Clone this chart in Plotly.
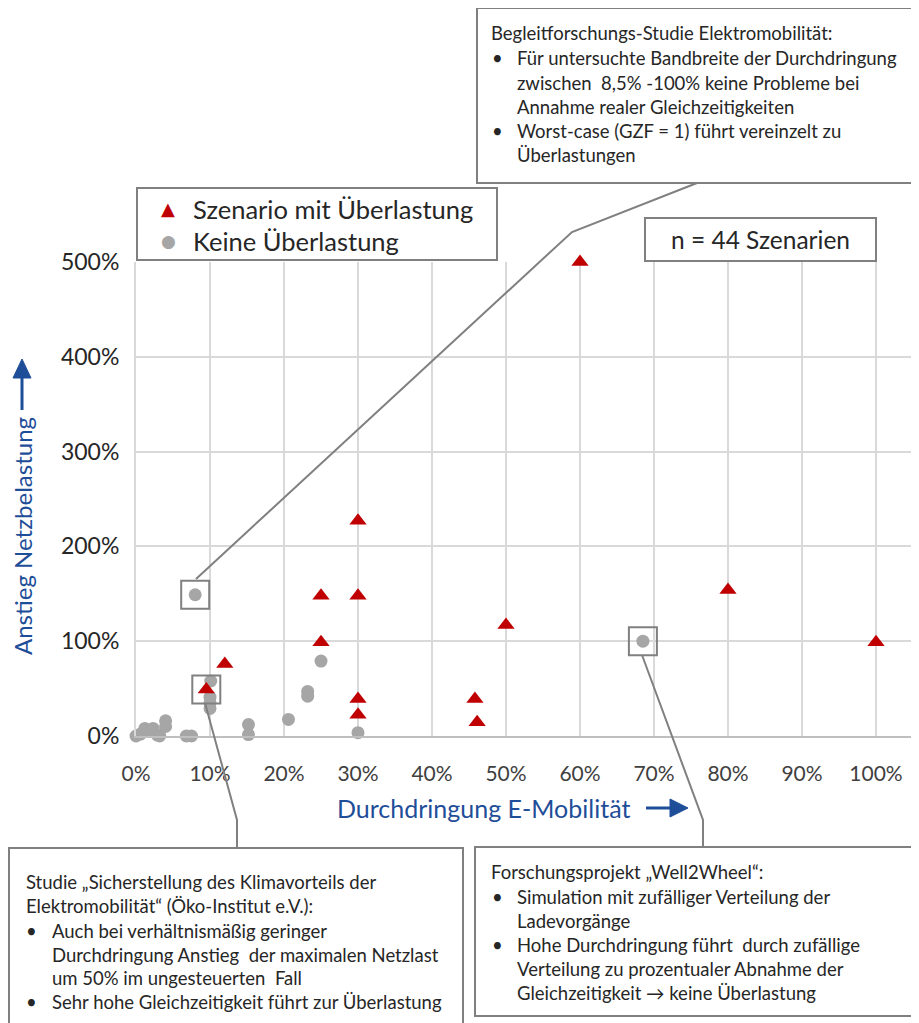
import plotly.graph_objects as go

# ---------------- data ----------------
over_x = [60, 30, 30, 25, 25, 50, 80, 100, 12, 9.5, 30, 30, 45.8, 46.1]
over_y = [500, 227, 148, 148, 99, 117, 154, 99, 76, 49, 39, 22.5, 39, 14.5]

ok_x = [0, 0.6, 1.2, 1.8, 2.3, 2.9, 3.2, 4.0, 4.0, 6.8, 7.5, 8.0, 10.1, 10.0,
        10.0, 10.0, 15.2, 15.2, 20.6, 23.2, 23.2, 25.0, 30.0, 68.5]
ok_y = [0, 2, 8, 5, 8, 1, 0, 16, 10, 0, 0, 149, 58, 41,
        35, 29, 12, 1.5, 17.5, 47, 42, 79, 3.5, 100]

x_ticks = [0, 10, 20, 30, 40, 50, 60, 70, 80, 90, 100]
y_ticks = [0, 100, 200, 300, 400, 500]

series_names = ["Szenario mit Überlastung", "Keine Überlastung"]
n_label = "n = 44 Szenarien"

top_text = [("h", "Begleitforschungs-Studie Elektromobilität:"),
            ("b", "Für untersuchte Bandbreite der Durchdringung"),
            ("c", "zwischen  8,5% -100% keine Probleme bei"),
            ("c", "Annahme realer Gleichzeitigkeiten"),
            ("b", "Worst-case (GZF = 1) führt vereinzelt zu"),
            ("c", "Überlastungen")]
left_text = [("h", "Studie „Sicherstellung des Klimavorteils der"),
             ("h", "Elektromobilität“ (Öko-Institut e.V.):"),
             ("b", "Auch bei verhältnismäßig geringer"),
             ("c", "Durchdringung Anstieg  der maximalen Netzlast"),
             ("c", "um 50% im ungesteuerten  Fall"),
             ("b", "Sehr hohe Gleichzeitigkeit führt zur Überlastung")]
right_text = [("h", "Forschungsprojekt „Well2Wheel“:"),
              ("b", "Simulation mit zufälliger Verteilung der"),
              ("c", "Ladevorgänge"),
              ("b", "Hohe Durchdringung führt  durch zufällige"),
              ("c", "Verteilung zu prozentualer Abnahme der"),
              ("c", "Gleichzeitigkeit \u2192 keine Überlastung")]

# highlighted points (data coords)
highlights = [(8.0, 149), (9.5, 49), (68.5, 100)]

# ---------------- layout geometry ----------------
# page has an 8px body margin: figure is drawn from screen (8, 8)
OFF = 8
FW, FH = 919 - OFF, 1023 - OFF
S_L, S_R, S_T, S_B = 136, 919, 262, 736          # plot area in screen px
PW, PH = S_R - S_L, S_B - S_T
X_MAX = 100 * PW / 740.0
Y_MAX = 500


def px(x):
    return (x - S_L) / PW


def py(y):
    return (S_B - y) / PH


FONT = "Lato, 'Open Sans', sans-serif"
BLUE = "#1F4E99"
GREY_LINE = "#808080"
TXT = "#262626"
RED = "#C00000"
GREY = "#A6A6A6"

fig = go.Figure()
fig.add_trace(go.Scatter(x=ok_x, y=ok_y, mode="markers", name=series_names[1],
                         marker=dict(symbol="circle", size=13, color=GREY),
                         cliponaxis=False, showlegend=False))
fig.add_trace(go.Scatter(x=over_x, y=over_y, mode="markers", name=series_names[0],
                         marker=dict(symbol="triangle-up", size=15, color=RED),
                         cliponaxis=False, showlegend=False))

shapes = []
annotations = []

# boxes around highlighted points
for hx, hy in highlights:
    shapes.append(dict(type="rect", xref="x", yref="y", xsizemode="pixel", ysizemode="pixel",
                       xanchor=hx, yanchor=hy, x0=-14, x1=14, y0=-14, y1=14,
                       line=dict(color=GREY_LINE, width=2), layer="above"))


def pline(points):
    path = "M " + " L ".join(f"{px(a)},{py(b)}" for a, b in points)
    return dict(type="path", xref="paper", yref="paper", path=path,
                line=dict(color=GREY_LINE, width=2), layer="above")


# connector lines
shapes.append(pline([(697, 183), (572, 232), (196, 579)]))
shapes.append(pline([(205, 703), (237, 820), (237, 849)]))
shapes.append(pline([(642, 655), (703, 820), (703, 849)]))


def box(x0, y0, x1, y1):
    return dict(type="rect", xref="paper", yref="paper", x0=px(x0), x1=px(x1),
                y0=py(y1), y1=py(y0), line=dict(color=GREY_LINE, width=2),
                fillcolor="white", layer="above")


shapes.append(box(477, 8, 918, 183))
shapes.append(box(9, 848, 463, 1040))
shapes.append(box(475, 847, 918, 1016))
shapes.append(box(645, 218, 876, 261))
shapes.append(box(137, 188, 497, 260))      # legend frame


def text_block(lines, hx, bx, tx, ys, size=18.5):
    for (kind, s), yy in zip(lines, ys):
        if kind == "b":
            annotations.append(dict(x=px(bx), y=py(yy), xref="paper", yref="paper", text="•",
                                    showarrow=False, xanchor="left", yanchor="middle",
                                    font=dict(family=FONT, size=size, color=TXT)))
            xx = tx
        elif kind == "c":
            xx = tx
        else:
            xx = hx
        annotations.append(dict(x=px(xx), y=py(yy), xref="paper", yref="paper", text=s,
                                showarrow=False, xanchor="left", yanchor="middle",
                                font=dict(family=FONT, size=size, color=TXT)))


text_block(top_text, 489, 490, 515, [33, 58, 83, 107, 131, 155])
text_block(left_text, 24, 24, 50, [882, 906, 931, 955, 978, 1002])
text_block(right_text, 489, 490, 515, [872, 897, 921, 945, 969, 993])

annotations.append(dict(x=px(760), y=py(240), xref="paper", yref="paper", text=n_label,
                        showarrow=False, xanchor="center", yanchor="middle",
                        font=dict(family=FONT, size=24.5, color=TXT)))

# legend (drawn manually to match the frame)
legend_items = [(series_names[0], "\u25B2", RED, 18, 209), (series_names[1], "\u25CF", GREY, 17, 241)]
for name, glyph, col, gsize, yy in legend_items:
    annotations.append(dict(x=px(168), y=py(yy), xref="paper", yref="paper", text=glyph,
                            showarrow=False, xanchor="center", yanchor="middle",
                            font=dict(family="DejaVu Sans", size=gsize, color=col)))
    annotations.append(dict(x=px(191), y=py(yy), xref="paper", yref="paper", text=name,
                            showarrow=False, xanchor="left", yanchor="middle",
                            font=dict(family=FONT, size=25.5, color=TXT)))

# axis titles
annotations.append(dict(x=px(483), y=py(808), xref="paper", yref="paper",
                        text="Durchdringung E-Mobilität", showarrow=False,
                        xanchor="center", yanchor="middle",
                        font=dict(family=FONT, size=25, color=BLUE)))
annotations.append(dict(x=px(22), y=py(536), xref="paper", yref="paper",
                        text="Anstieg Netzbelastung", showarrow=False, textangle=-90,
                        xanchor="center", yanchor="middle",
                        font=dict(family=FONT, size=24, color=BLUE)))

# axis-title arrows
shapes.append(dict(type="line", xref="paper", yref="paper", x0=px(646), x1=px(674),
                   y0=py(808), y1=py(808), line=dict(color=BLUE, width=3)))
shapes.append(dict(type="path", xref="paper", yref="paper",
                   path=f"M {px(670)},{py(799)} L {px(688)},{py(808)} L {px(670)},{py(817)} Z",
                   fillcolor=BLUE, line=dict(color=BLUE, width=1)))
shapes.append(dict(type="line", xref="paper", yref="paper", x0=px(22), x1=px(22),
                   y0=py(410), y1=py(375), line=dict(color=BLUE, width=3)))
shapes.append(dict(type="path", xref="paper", yref="paper",
                   path=f"M {px(13)},{py(378)} L {px(22)},{py(359)} L {px(31)},{py(378)} Z",
                   fillcolor=BLUE, line=dict(color=BLUE, width=1)))

fig.update_layout(
    width=FW, height=FH, autosize=False,
    margin=dict(l=S_L - OFF, r=FW - (S_R - OFF), t=S_T - OFF, b=FH - (S_B - OFF), pad=0),
    paper_bgcolor="white", plot_bgcolor="white",
    font=dict(family=FONT, color=TXT),
    shapes=shapes, annotations=annotations,
    showlegend=False,
    xaxis=dict(range=[0, X_MAX], tickvals=x_ticks, ticktext=[f"{v}%" for v in x_ticks],
               showgrid=True, gridcolor="#D9D9D9", gridwidth=2,
               showline=True, linecolor="#BFBFBF", linewidth=2, zeroline=False,
               ticks="", tickfont=dict(family=FONT, size=21, color="#404040"),
               ticklabelstandoff=18, fixedrange=True),
    yaxis=dict(range=[0, Y_MAX], tickvals=y_ticks, ticktext=[f"{v}%" for v in y_ticks],
               showgrid=True, gridcolor="#D9D9D9", gridwidth=2,
               showline=True, linecolor="#D9D9D9", linewidth=2, zeroline=False,
               ticks="", tickfont=dict(family=FONT, size=23, color="#262626"),
               ticklabelstandoff=10, fixedrange=True),
)

fig.write_html("out.html")
